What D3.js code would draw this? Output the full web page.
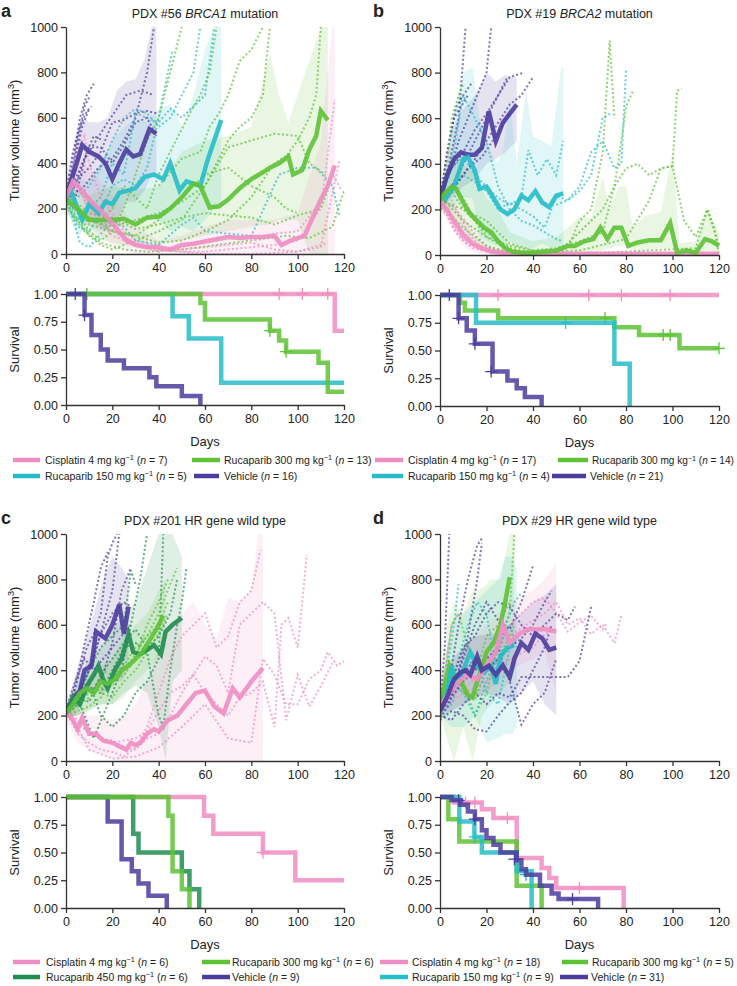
<!DOCTYPE html>
<html>
<head>
<meta charset="utf-8">
<script src="https://cdn.jsdelivr.net/npm/d3@7"></script>
<style>
body { margin: 0; background: #fff; }
svg text { font-family: "Liberation Sans", Arial, Helvetica, sans-serif; fill: #222; }
</style>
</head>
<body>
<svg id="fig" width="737" height="986"></svg>
<script>
// colours per treatment
const PINK = '#f08dc2', GREEN = '#5ec235', CYAN = '#26bdc8', PURPLE = '#4b3c9d', DKGREEN = '#1f8d50';

const dayTicks = [0, 20, 40, 60, 80, 100, 120];
const volTicks = [0, 200, 400, 600, 800, 1000];
const survTicks = [0, 0.25, 0.5, 0.75, 1];
const survTickLabels = ['0.00', '0.25', '0.50', '0.75', '1.00'];

// ---------- panel a : PDX #56 BRCA1 ----------
const aVehicleMean = [[0,250],[4,380],[7,480],[10,450],[14,430],[17,400],[20,330],[23,400],[26,460],[29,430],[32,440],[36,550],[39,530]];
const aCyanMean = [[0,245],[2,280],[5,200],[7,150],[10,220],[14,180],[17,230],[20,220],[23,270],[27,280],[30,290],[34,340],[38,350],[42,330],[45,400],[49,280],[52,320],[55,310],[58,300],[61,410],[64,500],[67,590]];
const aGreenMean = [[0,240],[5,200],[10,150],[15,150],[20,150],[25,155],[30,130],[35,160],[40,165],[45,200],[50,250],[55,310],[58,300],[62,205],[66,210],[70,240],[75,290],[80,330],[85,360],[88,380],[92,400],[96,430],[98,350],[102,370],[105,460],[108,520],[110,630],[113,590]];
const aPinkMean = [[0,250],[3,320],[7,280],[10,240],[14,200],[18,160],[22,110],[26,60],[30,40],[35,30],[40,30],[45,20],[50,40],[55,45],[60,55],[65,65],[70,75],[75,70],[80,75],[85,75],[90,80],[93,40],[97,60],[100,70],[103,80],[106,150],[110,240],[113,300],[116,390]];

const aVehicleBand = [[0,200,300],[4,280,520],[7,250,600],[10,150,580],[14,120,580],[18,100,600],[22,150,720],[26,230,760],[30,230,770],[34,280,860],[37,350,1000],[39,350,1000]];
const aCyanBand = [[0,200,300],[5,80,330],[10,120,320],[15,100,400],[20,150,500],[25,150,560],[30,140,600],[35,160,580],[40,150,640],[45,100,660],[50,120,560],[55,100,700],[60,150,900],[64,200,1000],[67,200,1000]];
const aGreenBand = [[0,180,300],[10,80,260],[20,50,300],[30,30,280],[40,40,300],[50,60,450],[60,80,500],[70,100,520],[80,120,560],[88,130,880],[92,150,700],[96,150,580],[100,150,700],[105,0,850],[110,0,1000],[113,0,1000]];
const aPinkBand = [[0,200,300],[5,180,420],[10,120,380],[15,80,320],[20,40,260],[30,0,120],[40,0,60],[50,0,80],[60,0,120],[70,0,150],[80,0,150],[90,0,150],[100,0,180],[110,0,500],[115,0,1000],[116,0,1000]];

const aVehicleMice = [
  [[0,250],[3,400],[6,600],[9,700],[12,750]],
  [[0,220],[3,350],[5,500],[8,650],[10,690]],
  [[0,260],[4,420],[7,560],[10,640]],
  [[0,240],[4,300],[8,420],[13,500],[18,580],[22,640],[26,700],[32,720],[38,700]],
  [[0,230],[5,330],[10,380],[15,450],[20,580],[25,590],[30,620],[35,630],[39,620]],
  [[0,270],[3,450],[6,560],[9,630],[11,650]],
  [[3,200],[6,330],[9,450],[12,520],[16,500]],
  [[0,260],[5,350],[10,470],[15,470],[20,400],[25,480],[30,580],[35,600],[39,520]],
  [[0,240],[8,300],[14,380],[20,420],[25,500],[30,600],[35,800],[38,1000]]
];
const aCyanMice = [
  [[0,250],[5,150],[10,200],[15,250],[20,400],[25,350],[30,620],[35,600],[40,580],[45,640],[50,600],[55,650],[60,700],[64,1000]],
  [[0,240],[5,120],[10,100],[15,180],[20,300],[25,330],[30,300],[35,380],[40,600],[46,900]],
  [[0,260],[6,50],[10,30],[16,100],[20,150],[25,120],[30,60],[40,40],[50,130],[55,160],[60,100],[70,90],[80,80],[92,350],[100,380],[108,380],[115,300],[118,170]],
  [[0,230],[5,250],[10,300],[15,380],[20,500],[25,600],[30,640],[35,620],[40,560],[45,600],[50,700],[55,800],[58,1000]]
];
const aGreenMice = [
  [[0,240],[5,180],[10,100],[15,60],[20,100],[25,200],[30,350],[35,500],[40,600],[45,800],[50,1000]],
  [[0,220],[5,150],[10,80],[15,40],[20,20],[30,60],[40,100],[50,150],[60,300],[65,400],[70,500],[75,560],[80,600],[85,700],[88,1000]],
  [[0,230],[5,200],[10,160],[15,150],[20,200],[25,300],[30,250],[35,200],[40,350],[45,450],[50,550],[55,650],[58,700],[62,800],[65,1000]],
  [[0,250],[5,200],[10,130],[20,100],[30,80],[40,50],[50,60],[60,100],[70,150],[80,250],[90,400],[95,430],[100,500],[105,600],[108,700],[110,1000]],
  [[0,240],[10,150],[20,120],[30,150],[40,180],[50,230],[60,300],[70,470],[80,500],[90,530],[100,520],[105,400],[112,350]],
  [[0,260],[10,180],[20,160],[30,110],[40,130],[50,160],[60,180],[70,170],[80,160],[90,130],[100,170],[110,200],[113,280]],
  [[0,210],[8,100],[15,50],[25,20],[35,10],[50,20],[65,40],[80,60],[95,80],[105,70],[115,120],[120,280]],
  [[0,250],[10,160],[20,100],[30,80],[40,150],[50,250],[60,350],[70,380],[80,300],[90,250],[95,200],[100,180]],
  [[40,300],[50,420],[58,450],[62,560],[66,620],[70,700],[75,850],[80,900],[85,1000]]
];
const aPinkMice = [
  [[0,260],[5,300],[10,200],[15,140],[20,80],[30,40],[40,20],[50,10],[60,10],[70,20],[80,30],[90,40],[100,60],[110,200],[116,680]],
  [[0,240],[5,450],[8,520],[10,400],[15,250],[20,180],[25,100],[30,60],[40,30],[50,20],[60,30],[70,40],[80,50],[90,20],[100,10],[110,30],[118,410]],
  [[0,230],[5,280],[10,250],[15,200],[20,120],[30,40],[40,10],[50,30],[60,60],[70,80],[80,70],[90,90],[100,100],[110,230],[115,350],[119,280]],
  [[0,250],[5,200],[10,180],[15,160],[20,100],[30,50],[40,20],[60,0],[80,0],[100,10],[113,50]]
];

const aVehicleKM = [[0,1],[8,0.81],[11,0.63],[15,0.5],[18,0.4],[25,0.33],[36,0.25],[39,0.17],[50,0.08],[58,0]];
const aCyanKM = [[0,1],[46,0.8],[53,0.6],[67,0.2],[120,0.2]];
const aGreenKM = [[0,1],[58,0.92],[60,0.77],[88,0.67],[92,0.58],[95,0.48],[109,0.38],[113,0.12],[120,0.12]];
const aPinkKM = [[0,1],[116,0.67],[120,0.67]];
const aVehicleCens = [[4,1],[8,0.81]];
const aGreenCens = [[9,1],[88,0.67],[95,0.48]];
const aPinkCens = [[92,1],[102,1],[113,1]];

// ---------- panel b : PDX #19 BRCA2 ----------
const bVehicleMean = [[0,240],[3,350],[6,420],[9,450],[12,440],[15,440],[18,470],[21,630],[24,500],[27,580],[30,620],[33,660]];
const bCyanMean = [[2,240],[6,300],[10,420],[12,430],[15,370],[17,290],[20,300],[23,250],[26,200],[29,180],[32,200],[35,260],[38,240],[41,280],[44,230],[47,210],[50,260],[53,270]];
const bGreenMean = [[0,240],[2,270],[5,300],[7,290],[10,230],[13,180],[16,150],[19,120],[22,100],[25,60],[28,30],[31,15],[35,10],[40,10],[45,15],[50,20],[55,40],[58,40],[62,60],[66,70],[69,120],[72,70],[75,120],[78,120],[81,40],[85,55],[90,65],[95,65],[99,140],[102,10],[106,20],[110,10],[114,70],[117,60],[120,40]];
const bPinkMean = [[0,230],[3,200],[6,150],[10,90],[14,50],[18,30],[22,15],[26,10],[30,5],[60,5],[90,5],[120,5]];

const bVehicleBand = [[0,200,280],[5,250,550],[10,300,640],[15,330,700],[20,400,800],[24,420,760],[28,450,790],[33,500,780]];
const bCyanBand = [[2,200,280],[5,200,580],[10,250,800],[14,250,820],[17,80,600],[20,60,500],[24,40,400],[27,40,450],[30,60,680],[33,40,400],[37,30,720],[40,30,520],[44,50,500],[48,30,480],[52,40,820],[53,40,820]];
const bGreenBand = [[0,200,280],[5,150,450],[10,100,400],[15,50,350],[20,30,250],[25,10,200],[30,0,100],[40,0,60],[50,0,80],[55,0,120],[60,10,170],[65,10,160],[70,20,340],[73,30,200],[77,40,300],[80,40,300],[83,20,120],[88,20,170],[95,30,190],[100,30,450],[103,0,50],[110,0,60],[115,20,200],[120,10,100]];
const bPinkBand = [[0,200,260],[5,120,230],[10,40,150],[15,10,80],[20,0,40],[30,0,15],[120,0,10]];

const bVehicleMice = [
  [[0,240],[3,450],[6,600],[9,650],[12,700]],
  [[0,220],[4,400],[8,600],[11,1000]],
  [[0,250],[4,350],[8,500],[12,600],[16,700],[20,800],[22,1000]],
  [[0,230],[5,300],[10,400],[15,500],[20,600],[25,700],[30,780],[36,800]],
  [[0,260],[5,380],[10,450],[15,550],[20,620],[25,700],[29,780]],
  [[0,200],[5,280],[10,350],[15,420],[20,500],[25,580],[30,660],[35,700],[40,780]],
  [[0,240],[4,500],[7,650],[10,700],[14,760]],
  [[0,250],[6,300],[12,380],[18,430],[24,520],[30,620]]
];
const bCyanMice = [
  [[0,230],[5,380],[10,430],[15,350],[20,300],[25,250],[30,220],[35,250],[38,460],[42,350],[46,420],[50,350],[53,500]],
  [[0,250],[5,400],[10,700],[15,600],[20,500],[25,300],[30,200],[35,150],[40,130],[45,100],[50,70],[53,60]],
  [[0,240],[5,300],[10,350],[15,320],[20,280],[25,200],[30,230],[35,200],[40,170],[45,120],[50,260],[55,240],[60,300],[65,450],[70,500],[75,380],[78,400],[80,810]],
  [[50,220],[55,240],[60,280],[65,350],[70,600],[73,620]]
];
const bGreenMice = [
  [[0,240],[3,400],[5,600],[8,700],[10,750]],
  [[0,250],[5,300],[10,250],[15,150],[20,80],[30,40],[40,20],[50,10],[55,30],[60,150],[65,200],[70,450],[73,940],[75,600]],
  [[0,230],[5,280],[10,200],[20,100],[30,30],[40,10],[50,5],[60,100],[65,150],[70,200],[75,300],[80,380],[85,400],[90,350],[95,380],[100,390],[102,720],[104,730]],
  [[0,240],[10,200],[20,150],[30,50],[40,20],[50,30],[60,60],[70,100],[75,300],[78,500],[80,650],[83,720]],
  [[0,260],[10,150],[20,80],[30,20],[40,10],[60,20],[80,70],[90,240],[95,380],[100,390],[105,150],[110,80],[115,200],[120,40]],
  [[0,220],[10,120],[20,40],[30,10],[50,0],[70,10],[90,20],[110,30],[115,200],[118,120],[120,0]]
];
const bPinkMice = [
  [[0,240],[3,200],[6,130],[10,70],[15,40],[20,20],[30,10],[60,5],[90,5],[120,5]],
  [[0,220],[4,260],[8,180],[12,100],[16,50],[20,30],[30,10],[50,5]],
  [[0,250],[4,150],[8,90],[12,50],[18,20],[25,10],[40,5],[80,5]],
  [[0,200],[3,180],[6,110],[10,60],[14,30],[20,15],[40,5],[120,0]],
  [[0,230],[5,220],[10,160],[15,90],[20,40],[25,15],[35,5],[100,5]]
];

const bVehicleKM = [[0,1],[8,0.79],[11.5,0.68],[15,0.56],[22.6,0.31],[29,0.23],[33,0.16],[36.5,0.08],[43.7,0]];
const bCyanKM = [[0,1],[15.5,0.75],[75,0.38],[81.6,0]];
const bGreenKM = [[0,1],[8.6,0.93],[10.7,0.86],[25,0.79],[75,0.71],[85.6,0.64],[103,0.52],[120,0.52]];
const bPinkKM = [[0,1],[120,1]];
const bVehicleCens = [[4,1],[8,0.79],[15,0.56],[22,0.31]];
const bCyanCens = [[54,0.75]];
const bGreenCens = [[71,0.79],[96,0.64],[99,0.64],[120,0.52]];
const bPinkCens = [[25,1],[64,1],[78,1],[99,1]];

// ---------- panel c : PDX #201 HR wild type ----------
const cVehicleMean = [[0,210],[3,270],[6,310],[8,400],[11,420],[13,570],[17,540],[20,600],[23,690],[25,560],[27,680]];
const cGreenMean = [[0,210],[3,250],[6,300],[9,320],[12,300],[15,350],[18,340],[21,360],[24,400],[27,420],[30,450],[33,480],[36,530],[39,580],[42,640]];
const cDkGreenMean = [[0,210],[3,280],[6,250],[9,330],[12,380],[14,420],[16,360],[18,320],[21,400],[24,450],[27,560],[29,480],[32,470],[35,490],[38,510],[41,470],[43,570],[46,600],[50,630]];
const cPinkMean = [[0,220],[3,180],[5,140],[7,190],[10,120],[13,120],[16,90],[20,80],[24,60],[26,50],[28,80],[30,70],[32,80],[35,120],[38,140],[40,130],[44,180],[48,200],[52,250],[56,300],[60,310],[64,240],[68,210],[72,320],[75,280],[80,350],[85,410]];

const cVehicleBand = [[0,190,230],[4,200,380],[8,280,520],[12,320,650],[16,300,800],[20,350,900],[24,350,850],[27,400,800]];
const cDkGreenBand = [[0,190,230],[5,200,360],[10,220,450],[15,250,500],[20,250,580],[25,300,650],[30,330,700],[35,300,850],[40,150,1000],[43,0,1000],[46,350,1000],[50,400,900]];
const cGreenBand = [[0,190,230],[5,200,320],[10,230,380],[15,250,420],[20,250,450],[25,280,550],[30,350,600],[35,400,650],[40,450,750],[43,500,800]];
const cPinkBand = [[0,180,240],[5,80,220],[10,50,200],[15,30,200],[20,10,180],[25,0,200],[30,0,250],[35,0,350],[40,0,500],[45,0,600],[50,0,650],[55,0,700],[60,0,600],[65,0,540],[70,0,720],[75,0,700],[80,0,750],[83,0,1000],[85,0,1000]];

const cVehicleMice = [
  [[0,200],[3,280],[6,400],[9,500],[12,560],[15,650],[18,900],[20,960],[22,1000]],
  [[0,220],[3,300],[6,420],[9,560],[12,700],[15,850],[18,920]],
  [[0,210],[4,250],[8,350],[12,450],[16,600],[20,750],[23,1000]],
  [[0,200],[5,300],[10,400],[15,560],[20,650],[25,700],[28,680]],
  [[0,230],[4,350],[8,450],[12,400],[16,450],[20,500],[24,550],[28,600]],
  [[0,200],[4,260],[8,300],[12,320],[16,380],[20,520],[24,750],[28,850]]
];
const cDkGreenMice = [
  [[0,200],[5,250],[10,350],[15,200],[20,150],[25,200],[30,300],[35,350],[40,450],[42,1000]],
  [[0,220],[5,300],[10,400],[15,500],[20,550],[25,600],[28,840],[30,780]],
  [[0,200],[5,280],[10,320],[15,300],[20,400],[25,500],[30,520],[35,480],[40,200],[42,150],[45,400],[48,600],[50,700],[52,850]],
  [[0,230],[5,280],[10,260],[15,380],[20,450],[25,520],[30,580],[35,500],[40,550],[45,650],[48,800]],
  [[0,210],[4,300],[8,200],[12,100],[16,200],[20,300],[24,400],[28,600],[32,800],[35,1000]]
];
const cGreenMice = [
  [[0,210],[5,240],[10,280],[15,320],[20,330],[25,400],[30,470],[35,550],[40,650],[45,780],[48,850]],
  [[0,220],[5,260],[10,300],[15,300],[20,280],[25,350],[30,400],[35,480],[40,560],[44,650]],
  [[0,200],[5,220],[10,240],[15,280],[20,350],[25,380],[30,450],[35,600],[40,700],[44,800]],
  [[0,210],[5,300],[10,350],[15,400],[20,380],[25,420],[30,500],[35,550],[40,600],[44,700]]
];
const cPinkMice = [
  [[0,220],[5,120],[10,80],[15,50],[20,40],[25,20],[30,60],[35,150],[40,300],[45,450],[50,550],[55,600],[60,650],[65,500],[70,550],[75,700],[80,750],[84,930]],
  [[0,230],[5,180],[10,120],[15,100],[20,90],[25,60],[30,50],[35,100],[40,120],[45,200],[50,300],[55,380],[60,300],[65,250],[70,200],[75,280],[80,300],[85,350],[90,150],[93,600],[96,630],[100,500],[104,910]],
  [[0,210],[5,150],[10,50],[15,30],[20,10],[30,20],[40,60],[50,150],[60,250],[70,100],[80,80],[85,450],[90,380],[95,250],[100,250],[105,360],[110,400],[113,480],[117,420],[120,440]],
  [[0,200],[5,160],[10,130],[15,100],[20,80],[25,90],[30,100],[35,130],[40,220],[45,300],[50,330],[55,380],[60,460],[65,420],[70,300],[75,600],[80,650],[85,700],[90,650],[95,180],[100,380],[105,240],[110,330],[115,430]]
];

const cVehicleKM = [[0,1],[18,0.78],[24,0.44],[28.4,0.33],[31.3,0.22],[35.6,0.11],[43.5,0]];
const cDkGreenKM = [[0,1],[29,0.67],[31.3,0.5],[50,0.33],[53.3,0.17],[57.5,0]];
const cGreenKM = [[0,1],[44.2,0.83],[46,0.33],[50,0.17],[53.3,0]];
const cPinkKM = [[0,1],[59.6,0.83],[63.6,0.67],[85,0.5],[99,0.25],[120,0.25]];
const cPinkCens = [[85,0.5]];

// ---------- panel d : PDX #29 HR wild type ----------
const dVehicleMean = [[0,220],[3,280],[6,360],[9,390],[11,400],[13,380],[16,460],[18,400],[21,420],[24,380],[27,420],[30,370],[32,450],[35,520],[38,490],[41,560],[44,540],[47,490],[50,500]];
const dCyanMean = [[0,230],[3,300],[5,420],[7,350],[10,400],[13,480],[16,420],[19,390],[22,420],[24,340],[26,460],[29,500],[32,510]];
const dGreenMean = [[0,240],[2,330],[4,420],[6,370],[9,350],[12,290],[14,280],[16,350],[18,410],[20,480],[23,520],[26,600],[28,700],[30,810]];
const dPinkMean = [[0,240],[4,300],[8,350],[12,380],[16,360],[20,420],[24,480],[27,600],[30,520],[34,560],[38,580],[42,580],[46,580],[50,570]];

const dGreenBand = [[0,200,300],[3,100,600],[6,0,700],[10,150,650],[14,0,750],[18,200,760],[22,250,800],[26,300,800],[30,350,1000],[32,400,1000]];
const dCyanBand = [[0,200,260],[5,150,600],[10,150,650],[15,200,700],[20,80,750],[25,100,800],[28,120,900],[31,120,900],[33,150,850]];
const dVehicleBand = [[0,180,260],[5,220,450],[10,250,500],[15,280,550],[20,300,560],[25,280,560],[30,250,600],[35,300,650],[40,350,700],[45,250,730],[50,200,780]];
const dPinkBand = [[0,200,300],[10,250,500],[20,300,600],[30,400,700],[40,450,750],[45,480,800],[50,300,870]];

const dVehicleMice = [
  [[0,200],[4,350],[8,600],[12,800],[16,950],[18,980]],
  [[0,220],[2,500],[4,1000]],
  [[0,250],[5,300],[10,450],[15,600],[20,700],[25,620],[30,580],[35,700],[40,860]],
  [[0,200],[5,180],[10,250],[15,300],[20,250],[25,300],[30,280],[35,370],[40,370],[45,370],[50,370],[55,370],[60,440],[65,680]],
  [[0,180],[5,220],[10,200],[15,140],[20,130],[25,200],[30,260],[35,300],[40,400],[45,500],[48,600]],
  [[0,240],[5,350],[10,500],[15,550],[20,650],[25,700],[30,680],[35,600],[40,550],[45,600],[50,650],[55,620],[58,680]],
  [[0,210],[5,280],[10,350],[15,400],[20,450],[25,500],[30,350],[35,160],[40,250],[45,300],[50,450]],
  [[0,230],[5,300],[10,380],[15,450],[20,400],[25,450],[30,500],[35,540],[40,600],[45,700],[48,750]],
  [[0,190],[4,250],[8,400],[12,550],[16,800],[18,960]]
];
const dCyanMice = [
  [[0,230],[3,400],[6,600],[8,780]],
  [[0,220],[4,300],[8,450],[12,600],[16,700],[20,650],[24,400],[28,600],[32,700],[35,740]],
  [[0,240],[5,350],[10,300],[15,200],[20,350],[25,500],[30,600],[33,500]],
  [[0,210],[5,250],[10,400],[15,450],[20,300],[25,250],[30,500],[34,550]]
];
const dGreenMice = [
  [[0,240],[5,400],[10,350],[15,200],[20,300],[25,500],[30,650],[32,1000]],
  [[0,230],[5,600],[8,650],[12,500],[16,400],[20,550],[25,600],[30,700]],
  [[0,250],[5,350],[10,300],[15,270],[20,400],[25,450],[30,550],[32,600]]
];
const dPinkMice = [
  [[0,240],[3,450],[5,600],[8,650]],
  [[0,230],[10,350],[20,450],[30,550],[40,620],[45,650],[50,700],[55,600],[60,630],[65,560],[70,600],[75,520],[78,640]],
  [[0,250],[10,320],[20,400],[30,600],[40,700],[45,720],[50,650],[55,570],[60,610],[65,640],[70,580],[72,610]],
  [[0,220],[10,300],[20,350],[30,450],[40,500],[45,560],[50,580]]
];

const dPinkKM = [[0,1],[6,0.95],[18,0.89],[23,0.81],[33,0.45],[43.7,0.36],[47,0.27],[50,0.18],[79,0]];
const dCyanKM = [[0,1],[8.3,0.78],[14.8,0.64],[18,0.5],[33,0.33],[39.4,0]];
const dGreenKM = [[0,1],[3.6,0.8],[8.3,0.6],[33,0.2],[43.7,0]];
const dVehicleKM = [[0,1],[5,0.97],[9,0.93],[12,0.87],[15,0.8],[18,0.7],[20,0.63],[23,0.57],[26,0.5],[33,0.43],[35,0.35],[37,0.3],[43,0.2],[48,0.13],[51,0.08],[68,0]];
const dPinkCens = [[11,0.95],[15,0.95],[29,0.81],[60,0.18]];
const dCyanCens = [[15,0.64],[37,0.3]];
const dVehicleCens = [[8,0.97],[15,0.8],[32,0.44],[57,0.08]];

// ---------- drawing ----------
const svg = d3.select('#fig');

function styleAxis(g) {
  g.select('.domain').attr('stroke', '#333').attr('stroke-width', 1.3);
  g.selectAll('.tick line').attr('stroke', '#333').attr('stroke-width', 1.3);
  g.selectAll('.tick text').attr('font-size', 12.5).attr('fill', '#222')
    .attr('font-family', '"Liberation Sans", Arial, sans-serif');
}

function rich(sel, parts) {
  parts.forEach(p => {
    let ts = sel.append('tspan').text(p.t);
    if (p.i) ts.attr('font-style', 'italic');
    if (p.sup) ts.attr('baseline-shift', 'super').attr('font-size', '70%');
  });
}

function drawVolume(p) {
  let x = d3.scaleLinear().domain([0, 120]).range(p.xr);
  let y = d3.scaleLinear().domain([0, 1000]).range(p.vy);
  let clipId = 'clip-' + p.key;
  svg.append('clipPath').attr('id', clipId).append('rect')
    .attr('x', x(0)).attr('y', y(1000) - 2)
    .attr('width', x(120) - x(0) + 2).attr('height', y(0) - y(1000) + 2);
  let plot = svg.append('g').attr('clip-path', `url(#${clipId})`);

  let area = d3.area().x(d => x(d[0])).y0(d => y(d[1])).y1(d => y(d[2]));
  let line = d3.line().x(d => x(d[0])).y(d => y(d[1]));

  p.groups.forEach(s => {
    plot.append('path').datum(s.band).attr('d', area)
      .attr('fill', s.color).attr('fill-opacity', 0.14);
  });
  p.groups.forEach(s => {
    s.mice.forEach(m => {
      plot.append('path').datum(m).attr('d', line)
        .attr('fill', 'none').attr('stroke', s.color)
        .attr('stroke-width', 2).attr('stroke-dasharray', '2,2.3')
        .attr('stroke-opacity', 0.7);
    });
  });
  p.groups.forEach(s => {
    plot.append('path').datum(s.mean).attr('d', line)
      .attr('fill', 'none').attr('stroke', s.color)
      .attr('stroke-width', 4.5).attr('stroke-linejoin', 'miter')
      .attr('stroke-opacity', 0.9);
  });

  let ax = svg.append('g').attr('transform', `translate(0,${y(0)})`)
    .call(d3.axisBottom(x).tickValues(dayTicks).tickSize(5).tickSizeOuter(0).tickPadding(4));
  styleAxis(ax);
  let ay = svg.append('g').attr('transform', `translate(${x(0)},0)`)
    .call(d3.axisLeft(y).tickValues(volTicks).tickFormat(d3.format('d'))
      .tickSize(5).tickSizeOuter(0).tickPadding(3));
  styleAxis(ay);

  let yl = svg.append('text')
    .attr('transform', `translate(${x(0) - 47},${(y(0) + y(1000)) / 2}) rotate(-90)`)
    .attr('text-anchor', 'middle').attr('font-size', 13);
  rich(yl, [{ t: 'Tumor volume (mm' }, { t: '3', sup: true }, { t: ')' }]);

  let tt = svg.append('text').attr('x', (x(0) + x(120)) / 2).attr('y', y(1000) - 9)
    .attr('text-anchor', 'middle').attr('font-size', 12.5);
  rich(tt, p.title);

  svg.append('text').attr('x', p.letterX).attr('y', y(1000) - 10)
    .attr('font-size', 18).attr('font-weight', 'bold').text(p.letter);
}

function drawSurvival(p) {
  let x = d3.scaleLinear().domain([0, 120]).range(p.xr);
  let y = d3.scaleLinear().domain([0, 1]).range(p.sy);
  let step = d3.line().curve(d3.curveStepAfter).x(d => x(d[0])).y(d => y(d[1]));
  let g = svg.append('g');

  p.groups.forEach(s => {
    g.append('path').datum(s.km).attr('d', step)
      .attr('fill', 'none').attr('stroke', s.color)
      .attr('stroke-width', 4.5).attr('stroke-opacity', 0.85);
    (s.cens || []).forEach(c => {
      g.append('path')
        .attr('d', `M${x(c[0]) - 6},${y(c[1])}H${x(c[0]) + 6}M${x(c[0])},${y(c[1]) - 6}V${y(c[1]) + 6}`)
        .attr('stroke', s.color).attr('stroke-width', 1.3).attr('fill', 'none');
    });
  });

  let ax = svg.append('g').attr('transform', `translate(0,${y(0)})`)
    .call(d3.axisBottom(x).tickValues(dayTicks).tickSize(5).tickSizeOuter(0).tickPadding(4));
  styleAxis(ax);
  let ay = svg.append('g').attr('transform', `translate(${x(0)},0)`)
    .call(d3.axisLeft(y).tickValues(survTicks).tickFormat((d, i) => survTickLabels[i])
      .tickSize(5).tickSizeOuter(0).tickPadding(3));
  styleAxis(ay);

  svg.append('text')
    .attr('transform', `translate(${x(0) - 47},${(y(0) + y(1)) / 2}) rotate(-90)`)
    .attr('text-anchor', 'middle').attr('font-size', 13).text('Survival');
  svg.append('text').attr('x', (x(0) + x(120)) / 2).attr('y', y(0) + 41)
    .attr('text-anchor', 'middle').attr('font-size', 13).text('Days');
}

function drawLegend(items) {
  items.forEach(it => {
    svg.append('line').attr('x1', it.sw[0]).attr('x2', it.sw[1])
      .attr('y1', it.y).attr('y2', it.y)
      .attr('stroke', it.color).attr('stroke-width', 4.5);
    let fs = 10.5;
    let t = svg.append('text').attr('x', it.tx).attr('y', it.y + 4).attr('font-size', fs);
    rich(t, it.label);
    // shrink the rightmost entries so they stay inside the page
    let w = t.node().getComputedTextLength();
    if (it.tx + w > 734) t.attr('font-size', fs * (734 - it.tx) / w);
  });
}

function doseLabel(name, dose, n, gap) {
  return [{ t: `${name} ${dose} mg${gap ? '  ' : ' '}kg` }, { t: '\u22121', sup: true },
    { t: ' (' }, { t: 'n', i: true }, { t: ` = ${n})` }];
}
function vehLabel(n) {
  return [{ t: 'Vehicle (' }, { t: 'n', i: true }, { t: ` = ${n})` }];
}

const LEFT = [66, 344], RIGHT = [440, 719];

drawVolume({
  key: 'a', xr: LEFT, vy: [254, 27], letter: 'a', letterX: 1,
  title: [{ t: 'PDX #56 ' }, { t: 'BRCA1', i: true }, { t: ' mutation' }],
  groups: [
    { color: PURPLE, band: aVehicleBand, mice: aVehicleMice, mean: aVehicleMean },
    { color: CYAN, band: aCyanBand, mice: aCyanMice, mean: aCyanMean },
    { color: GREEN, band: aGreenBand, mice: aGreenMice, mean: aGreenMean },
    { color: PINK, band: aPinkBand, mice: aPinkMice, mean: aPinkMean }
  ]
});
drawVolume({
  key: 'b', xr: RIGHT, vy: [255, 27], letter: 'b', letterX: 373,
  title: [{ t: 'PDX #19 ' }, { t: 'BRCA2', i: true }, { t: ' mutation' }],
  groups: [
    { color: PINK, band: bPinkBand, mice: bPinkMice, mean: bPinkMean },
    { color: PURPLE, band: bVehicleBand, mice: bVehicleMice, mean: bVehicleMean },
    { color: CYAN, band: bCyanBand, mice: bCyanMice, mean: bCyanMean },
    { color: GREEN, band: bGreenBand, mice: bGreenMice, mean: bGreenMean }
  ]
});
drawVolume({
  key: 'c', xr: LEFT, vy: [761, 534], letter: 'c', letterX: 1,
  title: [{ t: 'PDX #201 HR gene wild type' }],
  groups: [
    { color: PINK, band: cPinkBand, mice: cPinkMice, mean: cPinkMean },
    { color: PURPLE, band: cVehicleBand, mice: cVehicleMice, mean: cVehicleMean },
    { color: DKGREEN, band: cDkGreenBand, mice: cDkGreenMice, mean: cDkGreenMean },
    { color: GREEN, band: cGreenBand, mice: cGreenMice, mean: cGreenMean }
  ]
});
drawVolume({
  key: 'd', xr: RIGHT, vy: [761, 534], letter: 'd', letterX: 373,
  title: [{ t: 'PDX #29 HR gene wild type' }],
  groups: [
    { color: GREEN, band: dGreenBand, mice: dGreenMice, mean: dGreenMean },
    { color: CYAN, band: dCyanBand, mice: dCyanMice, mean: dCyanMean },
    { color: PINK, band: dPinkBand, mice: dPinkMice, mean: dPinkMean },
    { color: PURPLE, band: dVehicleBand, mice: dVehicleMice, mean: dVehicleMean }
  ]
});

drawSurvival({ xr: LEFT, sy: [405, 294], groups: [
  { color: PINK, km: aPinkKM, cens: aPinkCens },
  { color: CYAN, km: aCyanKM },
  { color: GREEN, km: aGreenKM, cens: aGreenCens },
  { color: PURPLE, km: aVehicleKM, cens: aVehicleCens }
]});
drawSurvival({ xr: RIGHT, sy: [406, 295], groups: [
  { color: PINK, km: bPinkKM, cens: bPinkCens },
  { color: GREEN, km: bGreenKM, cens: bGreenCens },
  { color: CYAN, km: bCyanKM, cens: bCyanCens },
  { color: PURPLE, km: bVehicleKM, cens: bVehicleCens }
]});
drawSurvival({ xr: LEFT, sy: [908, 797], groups: [
  { color: PINK, km: cPinkKM, cens: cPinkCens },
  { color: PURPLE, km: cVehicleKM },
  { color: DKGREEN, km: cDkGreenKM },
  { color: GREEN, km: cGreenKM }
]});
drawSurvival({ xr: RIGHT, sy: [908, 797], groups: [
  { color: PINK, km: dPinkKM, cens: dPinkCens },
  { color: GREEN, km: dGreenKM },
  { color: CYAN, km: dCyanKM, cens: dCyanCens },
  { color: PURPLE, km: dVehicleKM, cens: dVehicleCens }
]});

drawLegend([
  { color: PINK, sw: [13, 40], tx: 45, y: 460, label: doseLabel('Cisplatin', 4, 7) },
  { color: GREEN, sw: [192, 220], tx: 224, y: 460, label: doseLabel('Rucaparib', 300, 13, true) },
  { color: CYAN, sw: [13, 40], tx: 45, y: 476, label: doseLabel('Rucaparib', 150, 5) },
  { color: PURPLE, sw: [194, 219], tx: 224, y: 476, label: vehLabel(16) },

  { color: PINK, sw: [375, 403], tx: 408, y: 460, label: doseLabel('Cisplatin', 4, 17) },
  { color: GREEN, sw: [558, 588], tx: 592, y: 460, label: doseLabel('Rucaparib', 300, 14) },
  { color: CYAN, sw: [372, 403], tx: 408, y: 476, label: doseLabel('Rucaparib', 150, 4, true) },
  { color: PURPLE, sw: [552, 586], tx: 590, y: 476, label: vehLabel(21) },

  { color: PINK, sw: [13, 40], tx: 46, y: 962, label: doseLabel('Cisplatin', 4, 6) },
  { color: GREEN, sw: [202, 230], tx: 232, y: 962, label: doseLabel('Rucaparib', 300, 6) },
  { color: DKGREEN, sw: [13, 40], tx: 46, y: 977, label: doseLabel('Rucaparib', 450, 6) },
  { color: PURPLE, sw: [202, 230], tx: 232, y: 977, label: vehLabel(9) },

  { color: PINK, sw: [380, 408], tx: 412, y: 962, label: doseLabel('Cisplatin', 4, 18) },
  { color: GREEN, sw: [562, 588], tx: 592, y: 962, label: doseLabel('Rucaparib', 300, 5) },
  { color: CYAN, sw: [380, 408], tx: 412, y: 977, label: doseLabel('Rucaparib', 150, 9) },
  { color: PURPLE, sw: [560, 588], tx: 591, y: 977, label: vehLabel(31) }
]);
</script>
</body>
</html>
